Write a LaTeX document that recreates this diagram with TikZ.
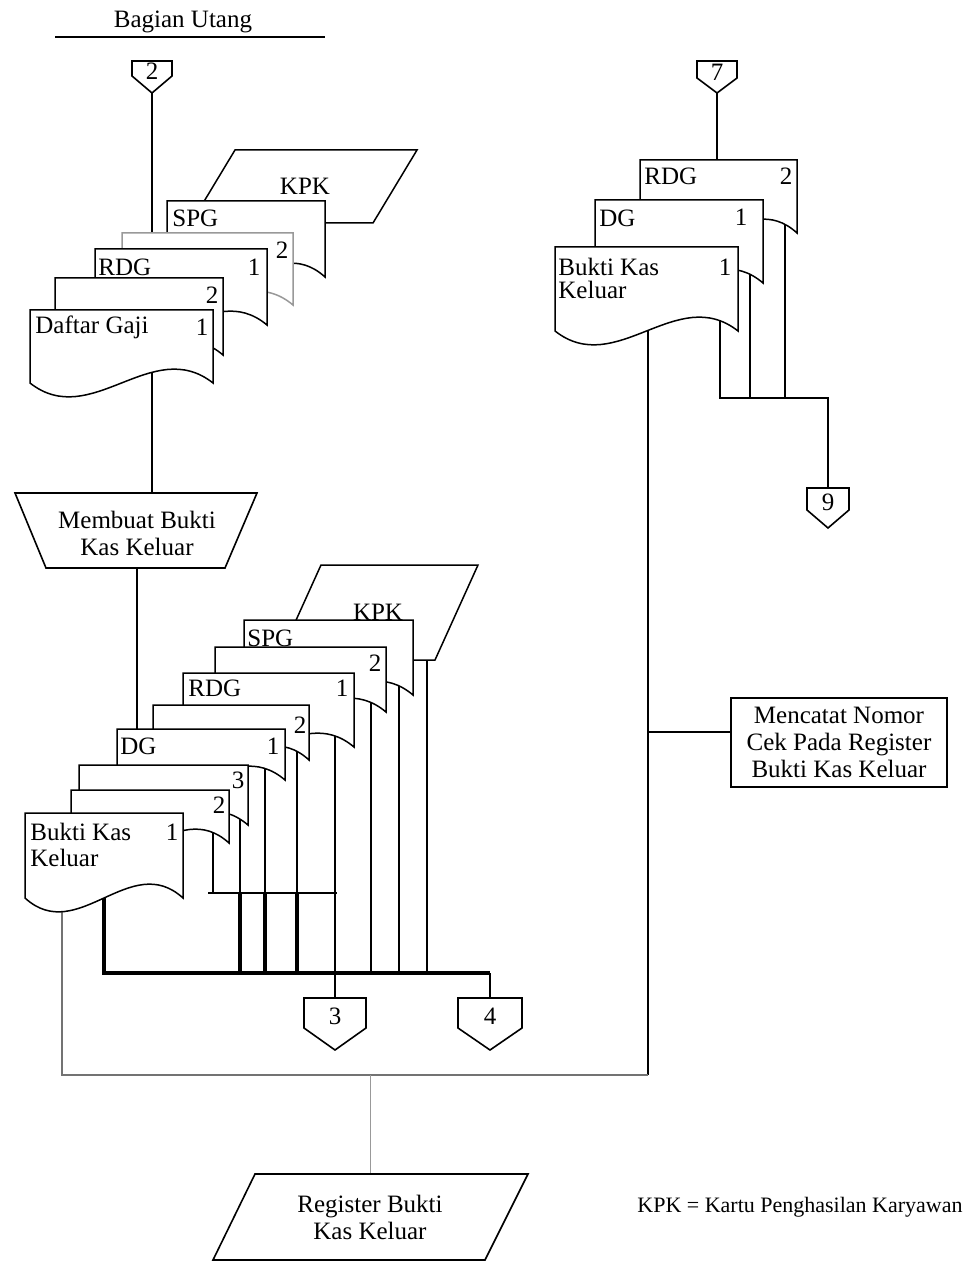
\documentclass[tikz,border=0pt]{standalone}
\usepackage{fontspec}
\setmainfont{Liberation Serif}
\newcommand{\docshape}[6]{%
  \pgfmathsetmacro{\dthird}{(#4-#2)/3}%
  \draw[docl,draw=#6] (#2,#3) -- (#4,#3) -- (#4,#5)
     .. controls ({#4-\dthird},{#5-48}) and ({#2+\dthird},{#5+48}) .. (#2,#5) -- cycle;
  \coordinate (#1) at ({(#2+#4)/2},#3);}
\newcommand{\offpage}[7]{%
  \draw[ln,fill=white] ({#2-#4},#3) -- ({#2+#4},#3) -- ({#2+#4},#5) -- (#2,#6) -- ({#2-#4},#5) -- cycle;
  \node[txt] (#1) at (#2,{(#3+#5)/2+3}) {#7};
  \coordinate (#1-top) at (#2,#3);
  \coordinate (#1-tip) at (#2,#6);}
\begin{document}
\begin{tikzpicture}[x=0.5pt,y=-0.5pt,
  ln/.style={line width=0.8pt},
  thk/.style={line width=1.8pt},
  grayln/.style={line width=0.8pt,draw=black!55},
  docl/.style={line width=0.75pt,fill=white},
  txt/.style={inner sep=0pt,font=\fontsize{12.5}{13.5}\selectfont},
  lbl/.style={txt,anchor=west}]
\useasboundingbox (0,0) rectangle (971,1262);

% ---------- off-page connectors ----------
\offpage{c2}{152}{61}{20}{76}{93}{2}
\offpage{c7}{717}{61}{20}{78}{93}{7}
\offpage{c9}{828}{488}{21}{510}{528}{9}
\offpage{c3}{335}{998}{31}{1028}{1050}{3}
\offpage{c4}{490}{998}{32}{1028}{1050}{4}

% ---------- named points ----------
\coordinate (tl-in) at (152,233);
\coordinate (dgj-out) at (152,360);
\coordinate (proc-in) at (152,493);
\coordinate (proc-out) at (137,568);
\coordinate (dg-in) at (137,729);
\coordinate (r-in) at (717,160);
\coordinate (r-a) at (720,310);
\coordinate (r-b) at (750,265);
\coordinate (r-c) at (785,215);
\coordinate (r-a2) at (720,398);
\coordinate (r-b2) at (750,398);
\coordinate (r-c2) at (785,398);
\coordinate (r-j) at (828,398);
\coordinate (bkr-out) at (648,320);
\coordinate (note-j) at (648,732);
\coordinate (bot-r) at (648,1075);
\coordinate (bot-l) at (62,1075);
\coordinate (bkl-out) at (62,880);
\coordinate (reg-j) at (370,1075);
\coordinate (reg-in) at (370,1174);
\coordinate (b-h1) at (208,893);
\coordinate (b-h2) at (337,893);
\coordinate (o8) at (213,823);  \coordinate (o8b) at (213,893);
\coordinate (o7) at (240,805);  \coordinate (o7b) at (240,893); \coordinate (o7c) at (240,973);
\coordinate (o6) at (265,760);  \coordinate (o6b) at (265,893); \coordinate (o6c) at (265,973);
\coordinate (o5) at (297,740);  \coordinate (o5b) at (297,893); \coordinate (o5c) at (297,973);
\coordinate (o4) at (335,727);
\coordinate (o3) at (371,692);  \coordinate (o3c) at (371,973);
\coordinate (o2) at (399,675);  \coordinate (o2c) at (399,973);
\coordinate (o1) at (427,640);  \coordinate (o1c) at (427,973);
\coordinate (o9) at (104,880);  \coordinate (o9c) at (104,973);
\coordinate (c4-j) at (490,973);

% ---------- connectors (drawn under the documents) ----------
\draw[ln] (c2-tip) -- (tl-in);
\draw[ln] (dgj-out) -- (proc-in);
\draw[ln] (proc-out) -- (dg-in);
\draw[ln] (c7-tip) -- (r-in);
\draw[ln] (r-a) -- (r-a2) -- (r-j) -- (c9-top);
\draw[ln] (r-b) -- (r-b2);
\draw[ln] (r-c) -- (r-c2);
\draw[ln] (bkr-out) -- (bot-r);
\draw[grayln] (bot-r) -- (bot-l) -- (bkl-out);
\draw[line width=0.4pt,black!40] (reg-j) -- (reg-in);
\draw[ln] (b-h1) -- (b-h2);
\draw[ln] (o8) -- (o8b);
\draw[ln] (o7) -- (o7b); \draw[thk] (o7b) -- (o7c);
\draw[ln] (o6) -- (o6b); \draw[thk] (o6b) -- (o6c);
\draw[ln] (o5) -- (o5b); \draw[thk] (o5b) -- (o5c);
\draw[ln] (o4) -- (c3-top);
\draw[ln] (o3) -- (o3c);
\draw[ln] (o2) -- (o2c);
\draw[ln] (o1) -- (o1c);
\draw[thk] (o9) -- (o9c) -- (c4-j);
\draw[ln] (c4-j) -- (c4-top);

% ---------- title ----------
\node[txt] (title) at (183,22) {Bagian Utang};
\coordinate (ul-a) at (55,37);
\coordinate (ul-b) at (325,37);
\draw[ln] (ul-a) -- (ul-b);

% ---------- top-left stack ----------
\draw[docl] (235,150) -- (417,150) -- (373,223) -- (191,223) -- cycle;
\node[txt] (tkpk) at (305,186) {KPK};
\docshape{tSPG}{167}{201}{325}{277}{black}
\node[lbl] (tSPGt) at (172,218) {SPG};
\docshape{tG2}{122}{233}{293}{305}{black!40}
\node[txt] (tG2n) at (282,250) {2};
\docshape{tRDG}{95}{249}{267}{325}{black}
\node[lbl] (tRDGt) at (98,267) {RDG};
\node[txt] (tRDGn) at (254,267) {1};
\docshape{tD2}{55}{278}{223}{355}{black}
\node[txt] (tD2n) at (212,295) {2};
\docshape{tDG}{30}{310}{213}{383}{black}
\node[lbl] (tDGt) at (35,327) {Daftar Gaji};
\node[txt] (tDGn) at (202,327) {1};

% ---------- process ----------
\draw[ln,fill=white] (15,493) -- (257,493) -- (225,568) -- (46,568) -- cycle;
\node[txt,align=center] (proc) at (137,533) {Membuat Bukti\\Kas Keluar};

% ---------- right stack ----------
\docshape{rRDG}{640}{160}{797}{233}{black}
\node[lbl] (rRDGt) at (644,176) {RDG};
\node[txt] (rRDGn) at (786,176) {2};
\docshape{rDG}{595}{200}{763}{283}{black}
\node[lbl] (rDGt) at (599,218) {DG};
\node[txt] (rDGn) at (741,217) {1};
\docshape{rBKK}{555}{247}{738}{331}{black}
\node[lbl] (rBKKt) at (558,267) {Bukti Kas};
\node[lbl] (rBKKt2) at (558,290) {Keluar};
\node[txt] (rBKKn) at (725,267) {1};

% ---------- bottom-left stack ----------
\draw[docl] (321,565) -- (478,565) -- (435,660) -- (278,660) -- cycle;
\node[txt] (bkpk) at (378,612) {KPK};
\docshape{bSPG}{244}{620}{413}{695}{black}
\node[lbl] (bSPGt) at (247,638) {SPG};
\docshape{bR2}{215}{647}{386}{712}{black}
\node[txt] (bR2n) at (375,663) {2};
\docshape{bRDG}{183}{673}{354}{747}{black}
\node[lbl] (bRDGt) at (188,688) {RDG};
\node[txt] (bRDGn) at (342,688) {1};
\docshape{bD2}{153}{705}{309}{760}{black}
\node[txt] (bD2n) at (300,725) {2};
\docshape{bDG}{117}{729}{285}{780}{black}
\node[lbl] (bDGt) at (120,746) {DG};
\node[txt] (bDGn) at (273,746) {1};
\docshape{bB3}{79}{765}{248}{825}{black}
\node[txt] (bB3n) at (238,780) {3};
\docshape{bB2}{71}{790}{229}{843}{black}
\node[txt] (bB2n) at (219,805) {2};
\docshape{bBKK}{25}{813}{183}{898}{black}
\node[lbl] (bBKKt) at (30,832) {Bukti Kas};
\node[lbl] (bBKKt2) at (30,858) {Keluar};
\node[txt] (bBKKn) at (172,832) {1};

% ---------- note box ----------
\node[txt,draw,line width=0.7pt,fill=white,minimum width=108pt,minimum height=44.5pt,align=center]
  (note) at (839,742.5) {Mencatat Nomor\\Cek Pada Register\\Bukti Kas Keluar};
\draw[ln] (note-j) -- (note-j -| note.west);

% ---------- register ----------
\draw[ln,fill=white] (255,1174) -- (528,1174) -- (485,1260) -- (213,1260) -- cycle;
\node[txt,align=center] (reg) at (370,1217) {Register Bukti\\Kas Keluar};

% ---------- legend ----------
\node[inner sep=0pt,font=\fontsize{11}{13}\selectfont] (legend) at (800,1207) {KPK = Kartu Penghasilan Karyawan};
\end{tikzpicture}
\end{document}
